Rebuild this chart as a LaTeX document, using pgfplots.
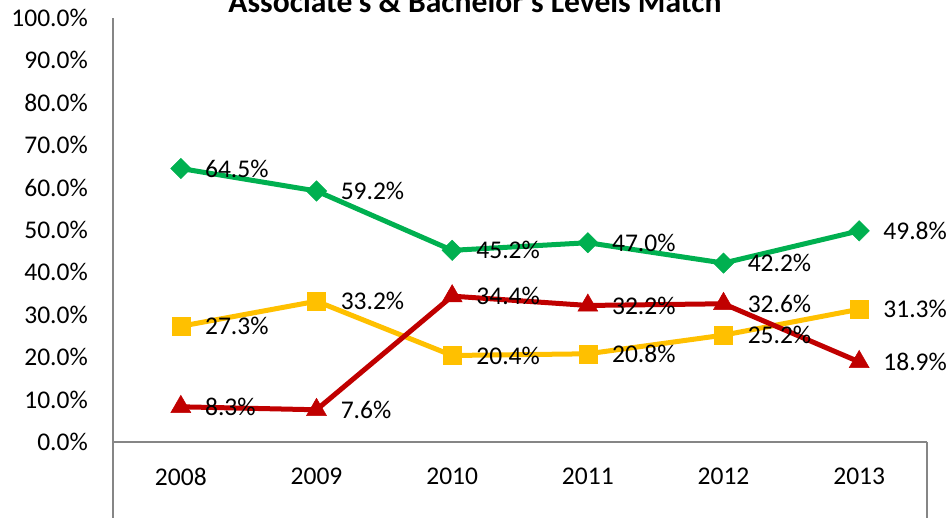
\documentclass[border=0pt]{standalone}
\usepackage{fontspec}
\setmainfont{Carlito}
\usepackage{pgfplots}
\pgfplotsset{compat=1.18}
\definecolor{cgreen}{RGB}{0,176,80}
\definecolor{cgold}{RGB}{255,192,0}
\definecolor{cred}{RGB}{192,0,0}
\definecolor{caxis}{RGB}{134,134,134}
\begin{document}
\begin{tikzpicture}[x=1pt,y=1pt]
\path[use as bounding box, clip] (0,0) rectangle (947,518);
\node[anchor=base, font=\fontsize{31.6}{36}\selectfont\bfseries] at (475,505) {Associate's \& Bachelor's Levels Match};
\draw[caxis, line width=1.5pt] (113,76) -- (113,-5);
\draw[caxis, line width=1.5pt] (927,76) -- (927,-5);
\begin{axis}[
  at={(113pt,76pt)}, anchor=south west,
  scale only axis, width=814pt, height=424pt,
  xmin=-0.5, xmax=5.5, ymin=0, ymax=100,
  axis x line=bottom, axis y line=left,
  axis line style={-, caxis, line width=1.5pt},
  xtick={0,1,2,3,4,5},
  xticklabels={2008,2009,2010,2011,2012,2013},
  ytick={0,10,...,100},
  major tick length=0pt,
  /pgf/number format/assume math mode=true,
  font=\fontsize{25.5}{30}\selectfont,
  yticklabel={\pgfmathprintnumber[fixed,fixed zerofill,precision=1]{\tick}\%},
  yticklabel style={anchor=east, inner sep=0pt, xshift=-25pt},
  xticklabel style={anchor=north, inner sep=0pt, yshift=-26pt},
  clip=false,
  nodes near coords={\pgfmathprintnumber[fixed,fixed zerofill,precision=1]{\pgfplotspointmeta}\%},
  every node near coord/.style={anchor=west, inner sep=0pt, xshift=24pt, text=black, font=\fontsize{25.5}{30}\selectfont},
  every axis plot/.append style={line width=5pt},
]
\addplot[cgreen, mark=square*, mark size=7.2pt, mark options={rotate=45, solid, line width=0.5pt, fill=cgreen}] coordinates {
 (0,64.5) (1,59.2) (2,45.2) (3,47.0) (4,42.2) (5,49.8)};
\addplot[cgold, mark=square*, mark size=9pt, mark options={solid, line width=0.5pt, fill=cgold}] coordinates {
 (0,27.3) (1,33.2) (2,20.4) (3,20.8) (4,25.2) (5,31.3)};
\addplot[cred, mark=triangle*, mark size=11.5pt, mark options={solid, line width=0.5pt, fill=cred}] coordinates {
 (0,8.3) (1,7.6) (2,34.4) (3,32.2) (4,32.6) (5,18.9)};
\end{axis}
\end{tikzpicture}
\end{document}
